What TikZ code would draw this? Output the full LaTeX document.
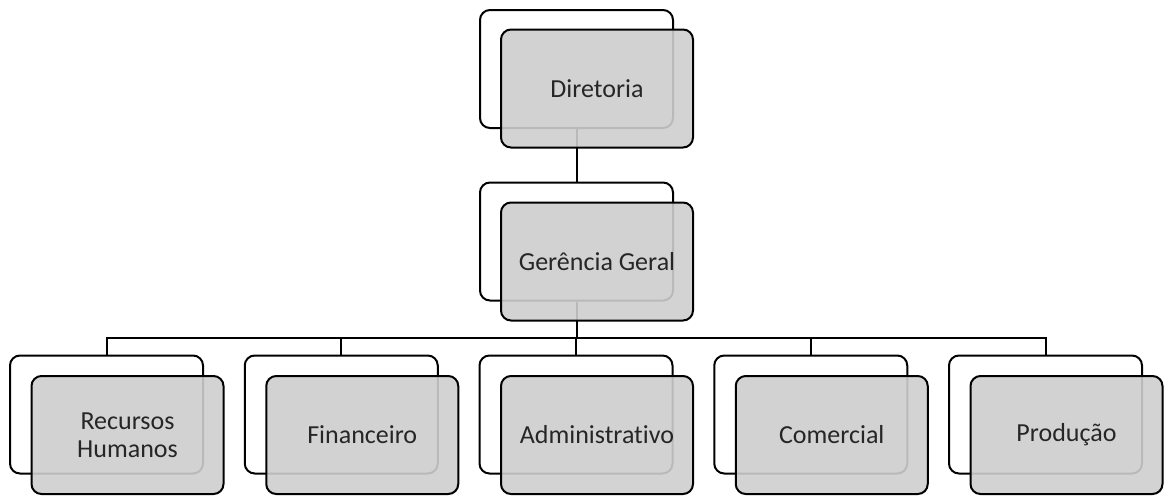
\documentclass[tikz,border=0pt]{standalone}
\usepackage{fontspec}
\setmainfont{Carlito}[Ligatures={NoCommon}]
\begin{document}
\begin{tikzpicture}[x=1pt,y=-1pt,
  backbox/.style={draw=black, line width=2pt, rounded corners=10pt, fill=white,
    minimum width=193pt, minimum height=118pt, inner sep=0pt},
  frontbox/.style={draw=black, line width=2pt, rounded corners=10pt,
    fill={rgb,255:red,206;green,206;blue,206}, fill opacity=0.9, text opacity=1,
    minimum width=192pt, minimum height=118pt, inner sep=0pt,
    align=center, text=black!85,
    font=\fontsize{26}{27.5}\selectfont},
  link/.style={draw=black, line width=2pt}]
\useasboundingbox (0,0) rectangle (1168,496);

% back frames
\node[backbox] (db) at (576.5,69) {};
\node[backbox] (gb) at (576.5,241.5) {};
\foreach \i/\x in {1/106.5,2/341.25,3/576,4/810.75,5/1045.5}
  \node[backbox] (b\i) at (\x,414.5) {};

% hierarchy lines
\draw[link] (db.south) -- (gb.north);
\coordinate (bus) at (576.5,337.5);
\draw[link] (gb.south) -- (bus);
\foreach \i in {1,...,5}
  \draw[link] (bus) -| (b\i.north);

% front boxes with labels
\node[frontbox] (d) at (597,88.5) {Diretoria};
\node[frontbox] (g) at (597,261.5) {Gerência Geral};
\node[frontbox] (f1) at (127.5,435) {Recursos\\Humanos};
\node[frontbox] (f2) at (362.25,435) {Financeiro};
\node[frontbox] (f3) at (597,435) {Administrativo};
\node[frontbox] (f4) at (831.75,435) {Comercial};
\node[frontbox] (f5) at (1066.5,435) {Produção};
\end{tikzpicture}
\end{document}
